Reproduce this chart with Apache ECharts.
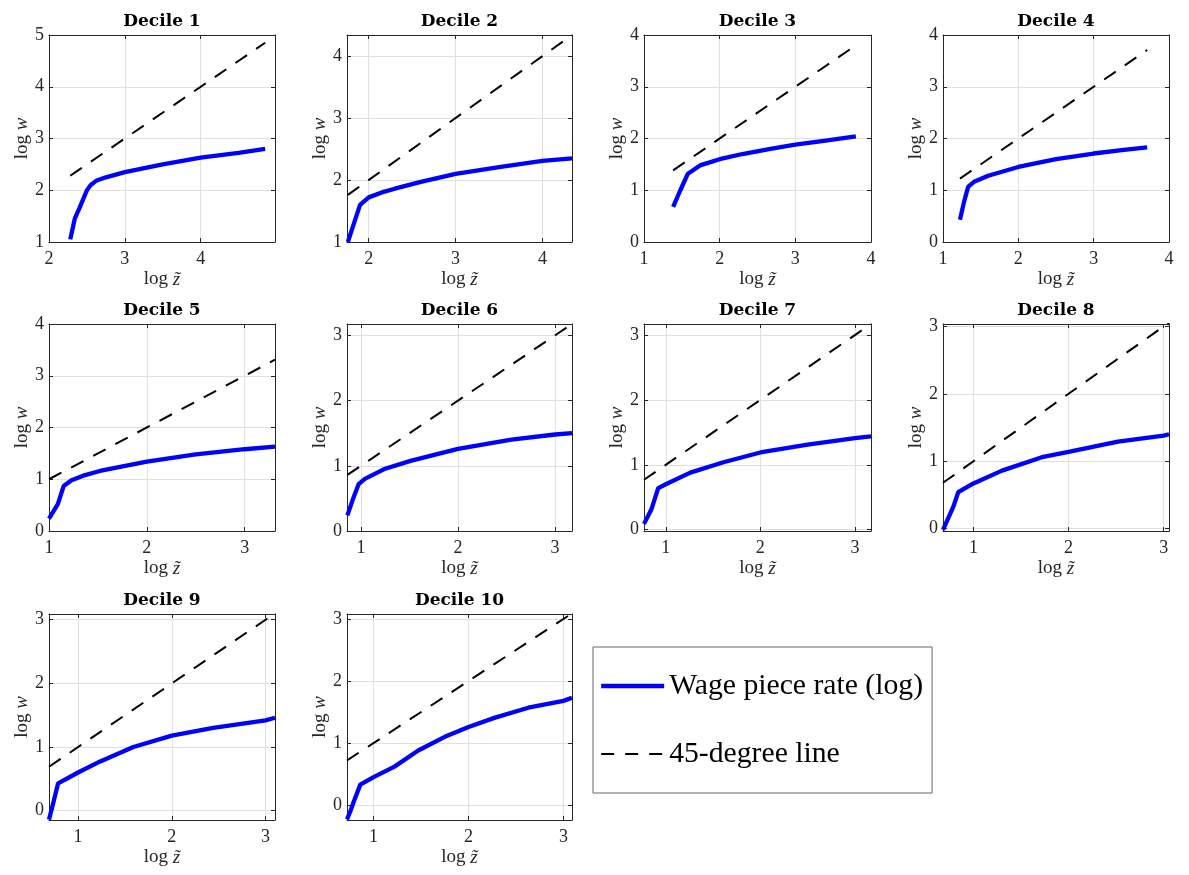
<!DOCTYPE html>
<html><head><meta charset="utf-8">
<script src="https://cdn.jsdelivr.net/npm/echarts@6/dist/echarts.min.js"></script>
<style>html,body{margin:0;padding:0;background:#fff}#c{width:1189px;height:875px}</style>
</head><body><div id="c"></div>
<script>
// ---------- DATA ----------
const titles = ['Decile 1','Decile 2','Decile 3','Decile 4','Decile 5','Decile 6','Decile 7','Decile 8','Decile 9','Decile 10'];
const seriesNames = ['Wage piece rate (log)', '45-degree line'];

const z1 = [2.28, 2.34, 2.40, 2.50, 2.55, 2.63, 2.75, 3.00, 3.50, 4.00, 4.50, 4.85];
const w1 = [1.05, 1.45, 1.65, 2.00, 2.10, 2.19, 2.25, 2.35, 2.50, 2.63, 2.72, 2.80];
const z2 = [1.76, 1.83, 1.90, 2.00, 2.15, 2.30, 2.60, 3.00, 3.50, 4.00, 4.34];
const w2 = [1.00, 1.30, 1.60, 1.72, 1.80, 1.86, 1.97, 2.10, 2.21, 2.31, 2.35];
const z3 = [1.385, 1.48, 1.58, 1.74, 2.00, 2.30, 2.67, 3.00, 3.40, 3.80];
const w3 = [0.68, 1.00, 1.32, 1.48, 1.60, 1.70, 1.80, 1.88, 1.96, 2.04];
const z4 = [1.225, 1.28, 1.335, 1.42, 1.60, 2.00, 2.50, 3.00, 3.40, 3.71];
const w4 = [0.43, 0.78, 1.07, 1.17, 1.28, 1.45, 1.60, 1.71, 1.78, 1.83];
const z5 = [1.00, 1.09, 1.15, 1.23, 1.35, 1.52, 2.00, 2.50, 3.00, 3.31];
const w5 = [0.24, 0.52, 0.87, 0.98, 1.07, 1.16, 1.34, 1.48, 1.58, 1.63];
const z6 = [0.86, 0.92, 0.976, 1.04, 1.24, 1.52, 2.00, 2.55, 3.00, 3.175];
const w6 = [0.24, 0.50, 0.72, 0.80, 0.95, 1.08, 1.26, 1.40, 1.48, 1.50];
const z7 = [0.77, 0.85, 0.92, 1.00, 1.26, 1.61, 2.00, 2.50, 3.00, 3.17];
const w7 = [0.09, 0.32, 0.64, 0.70, 0.88, 1.04, 1.19, 1.31, 1.41, 1.44];
const z8 = [0.68, 0.79, 0.84, 1.00, 1.30, 1.72, 2.00, 2.52, 3.00, 3.056];
const w8 = [-0.02, 0.33, 0.54, 0.67, 0.86, 1.06, 1.14, 1.29, 1.38, 1.40];
const z9 = [0.69, 0.74, 0.787, 1.00, 1.23, 1.59, 2.00, 2.44, 3.00, 3.10];
const w9 = [-0.14, 0.15, 0.43, 0.60, 0.77, 1.00, 1.18, 1.30, 1.42, 1.46];
const z10 = [0.72, 0.76, 0.79, 0.86, 1.00, 1.22, 1.47, 1.75, 2.00, 2.28, 2.63, 3.00, 3.09];
const w10 = [-0.23, -0.08, 0.05, 0.33, 0.45, 0.62, 0.88, 1.10, 1.26, 1.41, 1.57, 1.68, 1.73];

const zData = [z1, z2, z3, z4, z5, z6, z7, z8, z9, z10];
const wData = [w1, w2, w3, w4, w5, w6, w7, w8, w9, w10];

const xMin = [2, 1.75, 1, 1, 1, 0.856, 0.77, 0.68, 0.69, 0.72];
const xMax = [4.98, 4.34, 4, 4, 3.31, 3.175, 3.17, 3.056, 3.10, 3.09];
const yMin = [1, 1, 0, 0, 0, 0, -0.02, -0.035, -0.146, -0.24];
const yMax = [5, 4.34, 4, 4, 4, 3.175, 3.17, 3.035, 3.09, 3.08];
const xTicks = [[2,3,4],[2,3,4],[1,2,3,4],[1,2,3,4],[1,2,3],[1,2,3],[1,2,3],[1,2,3],[1,2,3],[1,2,3]];
const yTicks = [[1,2,3,4,5],[1,2,3,4],[0,1,2,3,4],[0,1,2,3,4],[0,1,2,3,4],[0,1,2,3],[0,1,2,3],[0,1,2,3],[0,1,2,3],[0,1,2,3]];

// ---------- LAYOUT ----------
const colLeft = [49, 347, 644, 943];
const colWidth = [226, 225, 227, 226];
const rowTop = [35, 324, 614];
const rowHeight = [207, 207, 206];

const FONT = 'Liberation Serif';
const TFONT = 'DejaVu Serif';
const INK = '#262626';
const GRID = '#e0e0e0';

const grids = [], xAxes = [], yAxes = [], series = [], titleList = [];
const richName = {
  a: {fontFamily: FONT, fontSize: 19, color: INK},
  b: {fontFamily: FONT, fontSize: 19, color: INK, fontStyle: 'italic'}
};

for (let i = 0; i < 10; i++) {
  const r = Math.floor(i / 4), c = i % 4;
  grids.push({left: colLeft[c], top: rowTop[r], width: colWidth[c], height: rowHeight[r], containLabel: false});
  titleList.push({
    text: titles[i], left: colLeft[c] + colWidth[c] / 2, top: rowTop[r] - 22, textAlign: 'center', padding: 0,
    textStyle: {fontFamily: TFONT, fontSize: 17, fontWeight: 'bold', color: '#000'}
  });
  const axLine = {show: true, onZero: false, lineStyle: {color: INK, width: 1}};
  xAxes.push({
    type: 'value', gridIndex: i, position: 'bottom', min: xMin[i], max: xMax[i],
    axisLine: axLine,
    axisTick: {show: true, inside: true, length: 4, customValues: xTicks[i], lineStyle: {color: INK}},
    axisLabel: {show: true, customValues: xTicks[i], color: INK, fontFamily: FONT, fontSize: 18, margin: 8},
    splitLine: {show: true, lineStyle: {color: GRID, width: 1}},
    name: '{a|log }{b|z\u0303}', nameLocation: 'middle', nameGap: 28,
    nameTextStyle: {rich: richName}
  });
  xAxes.push({
    type: 'value', gridIndex: i, position: 'top', min: xMin[i], max: xMax[i],
    axisLine: axLine,
    axisTick: {show: true, inside: true, length: 4, customValues: xTicks[i], lineStyle: {color: INK}},
    axisLabel: {show: false}, splitLine: {show: false}
  });
  yAxes.push({
    type: 'value', gridIndex: i, position: 'left', min: yMin[i], max: yMax[i],
    axisLine: axLine,
    axisTick: {show: true, inside: true, length: 4, customValues: yTicks[i], lineStyle: {color: INK}},
    axisLabel: {show: true, customValues: yTicks[i], color: INK, fontFamily: FONT, fontSize: 18, margin: 5},
    splitLine: {show: true, lineStyle: {color: GRID, width: 1}},
    name: '{a|log }{b|w}', nameLocation: 'middle', nameGap: 17,
    nameTextStyle: {rich: richName}
  });
  yAxes.push({
    type: 'value', gridIndex: i, position: 'right', min: yMin[i], max: yMax[i],
    axisLine: axLine,
    axisTick: {show: true, inside: true, length: 4, customValues: yTicks[i], lineStyle: {color: INK}},
    axisLabel: {show: false}, splitLine: {show: false}
  });
  const z = zData[i], w = wData[i];
  series.push({
    name: seriesNames[0], type: 'line', xAxisIndex: 2 * i, yAxisIndex: 2 * i,
    data: z.map((v, k) => [v, w[k]]), symbol: 'none', showSymbol: false, smooth: false,
    lineStyle: {color: '#0000ff', width: 4.3}, itemStyle: {color: 'rgba(0,0,0,0)', opacity: 0}, z: 3
  });
  const z0 = z[0], zN = z[z.length - 1];
  series.push({
    name: seriesNames[1], type: 'line', xAxisIndex: 2 * i, yAxisIndex: 2 * i,
    data: [[z0, z0], [zN, zN]], symbol: 'none', showSymbol: false,
    lineStyle: {color: '#000', width: 2, type: [14, 11]}, itemStyle: {color: 'rgba(0,0,0,0)', opacity: 0}, z: 4
  });
}

const chart = echarts.init(document.getElementById('c'), null, {renderer: 'canvas'});
chart.setOption({
  animation: false,
  backgroundColor: '#fff',
  title: titleList,
  grid: grids,
  xAxis: xAxes,
  yAxis: yAxes,
  series: series,
  legend: {
    data: [
      {name: seriesNames[0], lineStyle: {color: '#0000ff', width: 4.3}, itemStyle: {opacity: 0}},
      {name: seriesNames[1], lineStyle: {color: '#000', width: 2, type: [13, 11]}, itemStyle: {opacity: 0}}
    ],
    orient: 'vertical', left: 593, top: 647,
    padding: [24, 9, 24, 6], itemGap: 38, itemWidth: 63, itemHeight: 14,
    itemStyle: {opacity: 0},
    borderColor: '#666', borderWidth: 1, borderRadius: 0, backgroundColor: '#fff',
    textStyle: {fontFamily: FONT, fontSize: 29.7, color: '#000'},
    selectedMode: false
  }
});
</script>
</body></html>
